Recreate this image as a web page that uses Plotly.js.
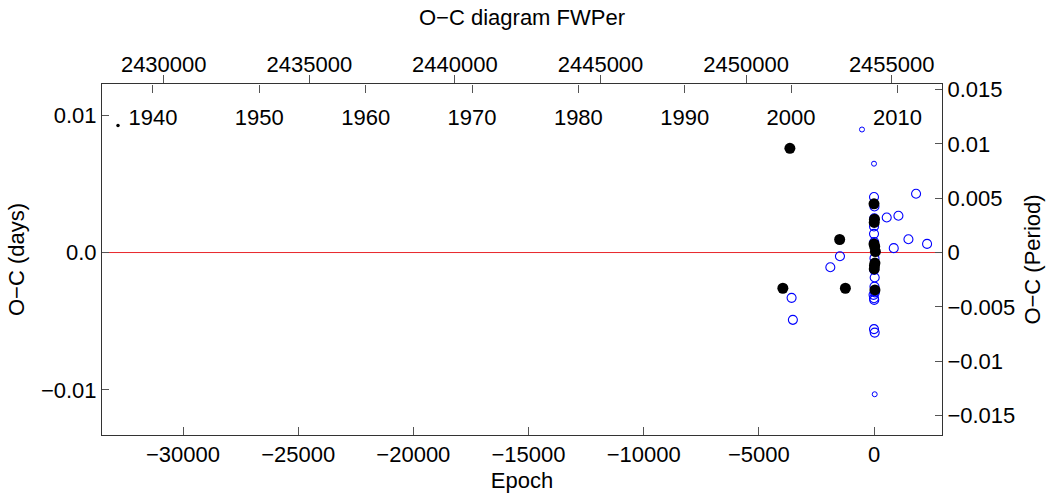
<!DOCTYPE html>
<html>
<head>
<meta charset="utf-8">
<script src="https://cdn.plot.ly/plotly-3.0.1.min.js"></script>
<style>html,body{margin:0;padding:0;background:#fff;}#chart{width:1049px;height:495px;}</style>
</head>
<body>
<div id="chart"></div>
<script>
// ---- data ----
const primEpoch = [-3652, -3957, -1491, -1243, 0, 20, 10, 0, 30, 60, 40, 20, 10, 40];
const primOC    = [0.00759, -0.0026, 0.00095, -0.0026, 0.00355, 0.00243, 0.00219, 0.00063, 0.00044, 0.00007, -0.00077, -0.00095, -0.00119, -0.00272];

const secEpoch = [1826, 552, 1060, 1495, 2304, 857, -1478, -1896, -3578, -3522,
                  0, 20, 10, 0, 0, 10, 0, 20, 10, 30, 20, -20, 0, 10, 0, 30, 40];
const secOC    = [0.00428, 0.00255, 0.00268, 0.00097, 0.00063, 0.00032, -0.00027, -0.00107, -0.0033, -0.0049,
                  0.00404, 0.00335, 0.00250, 0.0019, 0.00136, 0.00076, 0.00062, -0.00041, -0.00126, -0.00182, -0.00248, -0.00308, -0.00333, -0.00345, -0.00558, -0.00583, -0.00290];

const smallEpoch = [-522, 0, 30];
const smallOC    = [0.00896, 0.00647, -0.01032];

const oldEpoch = [-32823];
const oldOC    = [0.00926];

const period = 0.791;        // days
const jdZero = 2454392;      // JD of epoch 0
const epochRange = [-33517, 2952];
const ocRange = [-0.013287, 0.012274];

const xTickVals = [-30000, -25000, -20000, -15000, -10000, -5000, 0];
const xTickText = ['\u221230000', '\u221225000', '\u221220000', '\u221215000', '\u221210000', '\u22125000', '0'];
const yTickVals = [-0.01, 0, 0.01];
const yTickText = ['\u22120.01', '0.0', '0.01'];
const pTickVals = [-0.015, -0.01, -0.005, 0, 0.005, 0.01, 0.015];
const pTickText = ['\u22120.015', '\u22120.01', '\u22120.005', '0', '0.005', '0.01', '0.015'];
const jdTickVals = [2430000, 2435000, 2440000, 2445000, 2450000, 2455000];
const yearTickVals = [1940, 1950, 1960, 1970, 1980, 1990, 2000, 2010];

// ---- derived axis ranges ----
const jdRange = epochRange.map(e => jdZero + period * e);
const yearRange = jdRange.map(j => 2000 + (j - 2451544.5) / 365.25);
const periodRange = ocRange.map(v => v / period);

const FONT = 'Liberation Sans, Arial, Helvetica, sans-serif';
const fs = 22;

const ghost = {type: 'scatter', mode: 'markers', marker: {opacity: 0, size: 1}, hoverinfo: 'skip', showlegend: false};

const traces = [
  Object.assign({}, ghost, {x: jdRange, y: ocRange, xaxis: 'x2', yaxis: 'y'}),
  Object.assign({}, ghost, {x: yearRange, y: ocRange, xaxis: 'x3', yaxis: 'y'}),
  Object.assign({}, ghost, {x: epochRange, y: periodRange, xaxis: 'x', yaxis: 'y2'}),
  {x: secEpoch, y: secOC, type: 'scatter', mode: 'markers', name: 'sec',
   marker: {symbol: 'circle-open', size: 9, color: '#0000ff', line: {width: 1.1, color: '#0000ff'}}},
  {x: smallEpoch, y: smallOC, type: 'scatter', mode: 'markers', name: 'small',
   marker: {symbol: 'circle-open', size: 5, color: '#0000ff', line: {width: 1, color: '#0000ff'}}},
  {x: primEpoch, y: primOC, type: 'scatter', mode: 'markers', name: 'prim',
   marker: {symbol: 'circle', size: 11, color: '#000000'}},
  {x: oldEpoch, y: oldOC, type: 'scatter', mode: 'markers', name: 'old',
   marker: {symbol: 'circle', size: 3.5, color: '#000000'}}
];

const axisCommon = {
  showgrid: false, zeroline: false, showline: true, linecolor: '#333', linewidth: 1,
  ticks: 'inside', ticklen: 8, tickcolor: '#555', tickwidth: 1,
  tickfont: {family: FONT, size: fs, color: '#000'}, autorange: false
};

const layout = {
  width: 1049, height: 495,
  margin: {l: 102, r: 107, t: 84, b: 60, pad: 0},
  paper_bgcolor: '#fff', plot_bgcolor: '#fff',
  showlegend: false,
  font: {family: FONT, size: fs, color: '#000'},
  title: {text: 'O\u2212C diagram FWPer', font: {family: FONT, size: fs, color: '#000'},
          xref: 'paper', x: 0.5, xanchor: 'center', yref: 'container', y: 1 - 17/495, yanchor: 'middle'},
  xaxis: Object.assign({}, axisCommon, {
    range: epochRange, tickmode: 'array', tickvals: xTickVals, ticktext: xTickText,
    title: {text: 'Epoch', font: {family: FONT, size: fs, color: '#000'}, standoff: 6}
  }),
  yaxis: Object.assign({}, axisCommon, {
    range: ocRange, tickmode: 'array', tickvals: yTickVals, ticktext: yTickText, ticklen: 7,
    title: {text: 'O\u2212C (days)', font: {family: FONT, size: fs, color: '#000'}, standoff: 10}
  }),
  xaxis2: Object.assign({}, axisCommon, {
    overlaying: 'x', side: 'top', anchor: 'y', range: jdRange,
    tickmode: 'array', tickvals: jdTickVals, ticktext: jdTickVals.map(String),
    ticks: 'outside', ticklen: 8, ticklabelstandoff: -6
  }),
  xaxis3: Object.assign({}, axisCommon, {
    overlaying: 'x', side: 'bottom', anchor: 'free', position: 1, range: yearRange,
    tickmode: 'array', tickvals: yearTickVals, ticktext: yearTickVals.map(String),
    showline: false, ticks: 'outside', ticklen: 8, ticklabelstandoff: 6
  }),
  yaxis2: Object.assign({}, axisCommon, {
    overlaying: 'y', side: 'right', anchor: 'x', range: periodRange,
    tickmode: 'array', tickvals: pTickVals, ticktext: pTickText, ticklen: 7,
    title: {text: 'O\u2212C (Period)', font: {family: FONT, size: fs, color: '#000'}, standoff: 10}
  }),
  shapes: [
    {type: 'line', xref: 'paper', x0: 0, x1: 1, yref: 'y', y0: 0, y1: 0,
     line: {color: '#e8262b', width: 1}, layer: 'below'}
  ]
};

Plotly.newPlot('chart', traces, layout, {displayModeBar: false, staticPlot: true});
</script>
</body>
</html>
